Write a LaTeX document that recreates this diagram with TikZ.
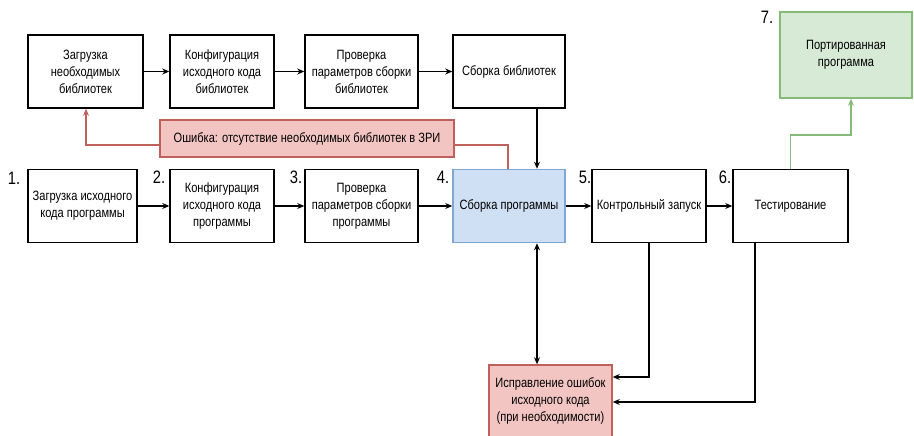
\documentclass[tikz,border=0pt]{standalone}
\usepackage{fontspec}
\setmainfont{Liberation Sans}[FakeStretch=0.82]
\usetikzlibrary{arrows.meta}
\definecolor{blueFill}{HTML}{CFE0F4}
\definecolor{blueLine}{HTML}{7FA7D6}
\definecolor{redFill}{HTML}{F3C5C2}
\definecolor{redLine}{HTML}{C0605C}
\definecolor{greenFill}{HTML}{D6EAD6}
\definecolor{greenLine}{HTML}{86BA78}
\begin{document}
\begin{tikzpicture}[x=1pt,y=-1pt,
  every node/.style={inner sep=0pt},
  stepbox/.style={draw=black, line width=1.5pt, fill=white, align=center,
    minimum height=73pt, font=\fontsize{13.5}{17}\selectfont},
  buildbox/.style={stepbox, draw=blueLine, fill=blueFill},
  errbox/.style={stepbox, draw=redLine, fill=redFill},
  donebox/.style={stepbox, draw=greenLine, fill=greenFill},
  num/.style={font=\fontsize{18}{18}\selectfont},
  flow/.style={draw=black, line width=1.5pt, -{Stealth[length=7pt,width=6pt]}},
  both/.style={flow, {Stealth[length=7pt,width=6pt]}-{Stealth[length=7pt,width=6pt]}},
  errflow/.style={draw=redLine, line width=1.2pt, -{Stealth[length=7pt,width=6pt]}},
  okflow/.style={draw=greenLine, line width=1.2pt, -{Stealth[length=7pt,width=6pt]}}]
\useasboundingbox (0,0) rectangle (914,436);

% library branch
\node[stepbox, minimum width=115pt] (a1) at (85.5,71.5) {Загрузка\\необходимых\\библиотек};
\node[stepbox, minimum width=104pt] (a2) at (222,71.5) {Конфигурация\\исходного кода\\библиотек};
\node[stepbox, minimum width=113pt] (a3) at (361.5,71.5) {Проверка\\параметров сборки\\библиотек};
\node[stepbox, minimum width=112pt] (a4) at (509,71.5) {Сборка библиотек};

% program branch
\node[stepbox, minimum width=109pt] (b1) at (82.5,206) {Загрузка исходного\\кода программы};
\node[stepbox, minimum width=104pt] (b2) at (222,206) {Конфигурация\\исходного кода\\программы};
\node[stepbox, minimum width=113pt] (b3) at (361.5,206) {Проверка\\параметров сборки\\программы};
\node[buildbox, minimum width=112pt] (b4) at (509,206) {Сборка программы};
\node[stepbox, minimum width=114pt] (b5) at (649,206) {Контрольный запуск};
\node[stepbox, minimum width=115pt] (b6) at (790.5,206) {Тестирование};
\node[donebox, minimum width=132pt, minimum height=86pt] (g7) at (846,55) {Портированная\\программа};

% error messages and fixes
\node[errbox, minimum width=294pt, minimum height=37pt] (err) at (307,138.5) {Ошибка: отсутствие необходимых библиотек в ЗРИ};
\node[errbox, minimum width=123pt, minimum height=72pt] (fix) at (550.5,401) {Исправление ошибок\\исходного кода\\(при необходимости)};

% step numbers
\node[num] (n1) at (14,178) {1.};
\node[num] (n2) at (159,177) {2.};
\node[num] (n3) at (296,177) {3.};
\node[num] (n4) at (443,177) {4.};
\node[num] (n5) at (585,177) {5.};
\node[num] (n6) at (725,177) {6.};
\node[num] (n7) at (767,17) {7.};

% connectors
\draw[flow] (a1) -- (a2);
\draw[flow] (a2) -- (a3);
\draw[flow] (a3) -- (a4);
\draw[flow] (b1) -- (b2);
\draw[flow] (b2) -- (b3);
\draw[flow] (b3) -- (b4);
\draw[flow] (b4) -- (b5);
\draw[flow] (b5) -- (b6);
\coordinate (ax) at (537,0);
\draw[flow] (a4.south -| ax) -- (b4.north -| ax);
\draw[both] (b4.south -| ax) -- (fix.north -| ax);
\coordinate (r5) at (0,377);
\coordinate (r6) at (0,402);
\coordinate (c5) at (649,0);
\coordinate (c6) at (755,0);
\draw[flow] (b5.south -| c5) |- (fix.east |- r5);
\draw[flow] (b6.south -| c6) |- (fix.east |- r6);

% error loop back to the library branch
\coordinate (ey) at (0,145);
\coordinate (ex) at (508,0);
\coordinate (ax1) at (86,0);
\draw[draw=redLine, line width=1.2pt] (b4.north -| ex) |- (err.east |- ey);
\draw[errflow] (err.west |- ey) -| (a1.south -| ax1);

% success path
\coordinate (gy) at (0,135);
\coordinate (gx) at (851,0);
\draw[okflow] (b6.north) |- (gx |- gy) -- (g7.south -| gx);
\end{tikzpicture}
\end{document}
